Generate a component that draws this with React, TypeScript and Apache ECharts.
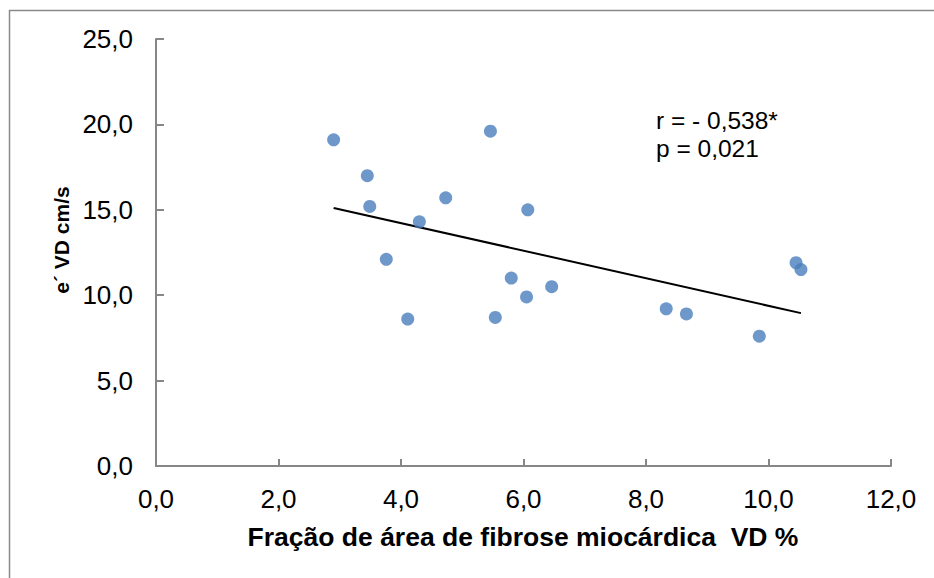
import React, { useEffect, useRef } from "react";
import * as echarts from "echarts";

const fibrose = [2.90, 3.45, 3.49, 3.76, 4.11, 4.30, 4.73, 5.46, 5.54, 5.80, 6.05, 6.07, 6.46, 8.33, 8.66, 9.85, 10.45, 10.53];
const eVD = [19.1, 17.0, 15.2, 12.1, 8.6, 14.3, 15.7, 19.6, 8.7, 11.0, 9.9, 15.0, 10.5, 9.2, 8.9, 7.6, 11.9, 11.5];
const trendX = [2.90, 10.53];
const trendY = [15.11, 8.95];
const xTitle = "Fração de área de fibrose miocárdica  VD %";
const yTitle = "e´ VD cm/s";
const statLines = ["r = - 0,538*", "p = 0,021"];

const FONT = '"Liberation Sans", Arial, sans-serif';
const fmt = (v: number) => v.toFixed(1).replace(".", ",");

export default function App() {
  const ref = useRef<HTMLDivElement>(null);
  useEffect(() => {
    if (!ref.current) return;
    const chart = echarts.init(ref.current, undefined, { renderer: "svg" });
    const axisColor = "#878787";
    chart.setOption({
      animation: false,
      backgroundColor: "#ffffff",
      textStyle: { fontFamily: FONT },
      grid: { left: 156, right: 43, top: 39, bottom: 112, containLabel: false },
      xAxis: {
        type: "value",
        min: 0,
        max: 12,
        interval: 2,
        splitLine: { show: false },
        axisLine: { show: true, lineStyle: { color: axisColor, width: 2 } },
        axisTick: { show: true, inside: true, length: 7, lineStyle: { color: axisColor, width: 2 } },
        axisLabel: { color: "#000", fontSize: 26, fontFamily: FONT, margin: 20, formatter: fmt },
      },
      yAxis: {
        type: "value",
        min: 0,
        max: 25,
        interval: 5,
        splitLine: { show: false },
        axisLine: { show: true, lineStyle: { color: axisColor, width: 2 } },
        axisTick: { show: true, inside: true, length: 8, lineStyle: { color: axisColor, width: 2 } },
        axisLabel: { color: "#000", fontSize: 26, fontFamily: FONT, margin: 23, formatter: fmt },
      },
      graphic: [
        {
          type: "rect",
          silent: true,
          shape: { x: 9.5, y: 10.5, width: 1200, height: 1200 },
          style: { fill: "none", stroke: "#8a8a8a", lineWidth: 1.5 },
          z: -1,
        },
        {
          type: "text",
          x: 523,
          y: 523,
          style: {
            text: xTitle,
            fontSize: 26.5,
            fontWeight: "bold",
            fontFamily: FONT,
            fill: "#000",
            align: "center",
            verticalAlign: "top",
          },
        },
        {
          type: "text",
          x: 61,
          y: 240,
          rotation: Math.PI / 2,
          style: {
            text: yTitle,
            fontSize: 21,
            fontWeight: "bold",
            fontFamily: FONT,
            fill: "#000",
            align: "center",
            verticalAlign: "middle",
          },
        },
        {
          type: "text",
          x: 656,
          y: 106,
          style: {
            text: statLines.join("\n"),
            fontSize: 24.5,
            lineHeight: 28,
            fontFamily: FONT,
            fill: "#000",
            align: "left",
            verticalAlign: "top",
          },
        },
      ],
      series: [
        {
          type: "line",
          data: trendX.map((x, i) => [x, trendY[i]]),
          showSymbol: false,
          symbol: "none",
          lineStyle: { color: "#000", width: 2 },
          z: 1,
        },
        {
          type: "scatter",
          data: fibrose.map((x, i) => [x, eVD[i]]),
          symbol: "circle",
          symbolSize: 13,
          itemStyle: { color: "#4A7EBB" },
          z: 2,
        },
      ],
    });
    return () => chart.dispose();
  }, []);
  return (
    <div
      ref={ref}
      style={{ position: "fixed", left: 0, top: 0, width: 934, height: 578, background: "#fff" }}
    />
  );
}
